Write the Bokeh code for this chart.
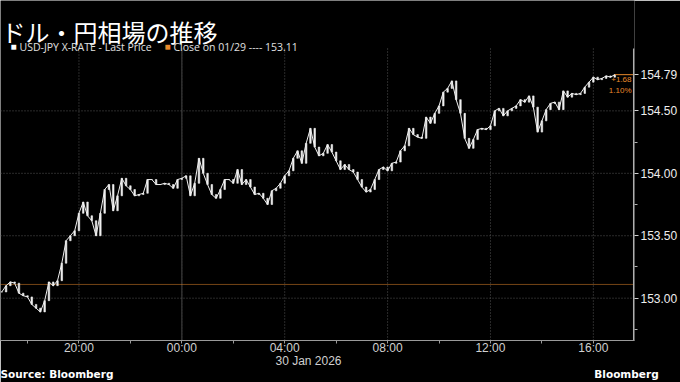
import pandas as pd
from bokeh.plotting import figure
from bokeh.models import (Range1d, LinearAxis, FixedTicker, Label, ColumnDataSource)
from bokeh.embed import file_html
from bokeh.resources import INLINE

# ---- data (USD/JPY, 10-minute closes) ----
start_time = "2026-01-29 17:00"
prices = [
    153.05, 153.10, 153.13, 153.12, 153.04, 153.02, 153.01, 152.95, 152.92, 152.89,
    152.98, 153.13, 153.10, 153.14, 153.28, 153.46, 153.50, 153.54, 153.68, 153.77,
    153.66, 153.62, 153.50, 153.68, 153.87, 153.91, 153.70, 153.82, 153.96, 153.90,
    153.87, 153.82, 153.83, 153.84, 153.95, 153.95, 153.91, 153.91, 153.92, 153.91,
    153.88, 153.95, 153.96, 153.98, 153.82, 153.92, 154.12, 154.00, 153.91, 153.83,
    153.80, 153.87, 153.95, 153.95, 153.92, 154.03, 153.91, 153.95, 153.89, 153.83,
    153.84, 153.80, 153.75, 153.86, 153.88, 153.92, 153.98, 154.02, 154.12, 154.18,
    154.08, 154.24, 154.36, 154.21, 154.14, 154.16, 154.23, 154.17, 154.10, 154.03,
    154.07, 154.03, 154.01, 153.95, 153.89, 153.85, 153.87, 153.95, 154.03, 154.05,
    154.02, 154.08, 154.09, 154.18, 154.22, 154.36, 154.31, 154.29, 154.28, 154.45,
    154.40, 154.48, 154.54, 154.65, 154.68, 154.74, 154.59, 154.48, 154.28, 154.20,
    154.27, 154.35, 154.36, 154.35, 154.38, 154.50, 154.52, 154.46, 154.50, 154.52,
    154.54, 154.59, 154.57, 154.62, 154.53, 154.33, 154.42, 154.51, 154.56, 154.57,
    154.51, 154.66, 154.61, 154.64, 154.63, 154.64, 154.69, 154.73, 154.77, 154.75,
    154.76, 154.78, 154.77, 154.79,
]
prev_close = 153.11
last_price_label = "154.79"
change = "+1.68"
change_pct = "1.10%"
x_tick_hours = [-4, 0, 4, 8, 12, 16]
x_tick_labels = ["20:00", "00:00", "04:00", "08:00", "12:00", "16:00"]
date_label = "30 Jan 2026"
y_ticks = [153.0, 153.5, 154.0, 154.5]
y_tick_labels = ["153.00", "153.50", "154.00", "154.50"]

times = pd.date_range(start_time, periods=len(prices), freq="10min")
midnight = pd.Timestamp("2026-01-30 00:00")
hours = [(t - midnight) / pd.Timedelta(hours=1) for t in times]
opens = [prices[0]] + prices[:-1]
src = ColumnDataSource(dict(
    x=hours, close=prices,
    top=[max(o, c) for o, c in zip(opens, prices)],
    bottom=[min(o, c) for o, c in zip(opens, prices)],
))

BG = "#000000"
ORANGE = "#e8892b"
FONT = "Liberation Sans"
X0, X1 = -7.05, 17.6
FB = 339                   # expected canvas y of the frame bottom
Y1 = 154.0 + 172.3 / 124.5  # frame reaches the top of the canvas
Y0 = 154.0 - (FB - 172.3) / 124.5
PLOT_TOP = 155.0           # visible chart area top
PXH = 634 / (X1 - X0)      # pixels per hour


def hx(px):
    return X0 + px / PXH


p = figure(width=680, height=382, output_backend="svg", toolbar_location=None,
           x_range=Range1d(X0, X1), y_range=Range1d(Y0, Y1),
           min_border_left=0, min_border_right=46, min_border_top=0, min_border_bottom=40,
           background_fill_color=BG, border_fill_color=BG, outline_line_color=None,
           y_axis_location=None)
p.xgrid.visible = False
p.ygrid.visible = False

# grid lines limited to the chart area
p.segment(x0=x_tick_hours, y0=[Y0] * 6, x1=x_tick_hours, y1=[PLOT_TOP] * 6,
          line_color="#555555", line_dash="1 2", line_width=1)
p.segment(x0=[0], y0=[Y0], x1=[0], y1=[PLOT_TOP], line_color="#303030", line_width=1.5)
p.segment(x0=[X0] * 4, y0=y_ticks, x1=[X1] * 4, y1=y_ticks,
          line_color="#555555", line_dash="1 2", line_width=1)

# previous close line
p.segment(x0=[X0], y0=[prev_close], x1=[X1], y1=[prev_close],
          line_color=ORANGE, line_dash="1 1", line_width=1)

# price series
p.line("x", "close", source=src, line_color="#f0f0f0", line_width=1.0)
p.vbar(x="x", top="top", bottom="bottom", width=0.06, source=src,
       fill_color="#f0f0f0", line_color="#f0f0f0", line_width=0.6)

# change bracket
p.segment(x0=[hours[-1]], y0=[prices[-1]], x1=[X1], y1=[prices[-1]],
          line_color=ORANGE, line_width=1)

# right axis line (only over the chart area)
p.segment(x0=[X1 - 0.03], y0=[Y0], x1=[X1 - 0.03], y1=[PLOT_TOP],
          line_color="#b0b0b0", line_width=1.5)

# bottom axis: times
xa = p.xaxis[0]
xa.ticker = FixedTicker(ticks=x_tick_hours, minor_ticks=[-6, -2, 2, 6, 10, 14])
xa.major_label_overrides = dict(zip(x_tick_hours, x_tick_labels))
xa.axis_line_color = "#9a9a9a"
xa.major_tick_line_color = "#9a9a9a"
xa.minor_tick_line_color = "#9a9a9a"
xa.major_tick_out = 3
xa.major_tick_in = 0
xa.minor_tick_out = 3
xa.minor_tick_in = 0
xa.major_label_text_color = "#d0d0d0"
xa.major_label_text_font = FONT
xa.major_label_text_font_size = "12px"
xa.major_label_standoff = -3


def text_axis(ticks, labels, size, color, standoff, style="normal", font=FONT):
    ax = LinearAxis(ticker=FixedTicker(ticks=ticks, minor_ticks=[]))
    ax.major_label_overrides = dict(zip(ticks, labels))
    ax.axis_line_color = None
    ax.major_tick_line_color = None
    ax.minor_tick_line_color = None
    ax.major_tick_out = 0
    ax.major_tick_in = 0
    ax.major_label_standoff = standoff
    ax.major_label_text_color = color
    ax.major_label_text_font = font
    ax.major_label_text_font_size = size
    ax.major_label_text_font_style = style
    p.add_layout(ax, "below")


# second row: date, third row: footer
text_axis([hx(308)], [date_label], "12px", "#d0d0d0", -4)
text_axis([hx(56), hx(626)], ["Source: Bloomberg", "Bloomberg"], "10.5px", "#ffffff", -3,
          style="bold", font="DejaVu Sans")

# right axis
ya = LinearAxis(ticker=FixedTicker(ticks=y_ticks + [prices[-1]],
                                   minor_ticks=[152.75, 153.25, 153.75, 154.25]))
ya.major_label_overrides = dict(zip(y_ticks + [prices[-1]], y_tick_labels + [last_price_label]))
ya.axis_line_color = None
ya.major_tick_line_color = "#d0d0d0"
ya.minor_tick_line_color = "#b0b0b0"
ya.major_tick_out = 4
ya.major_tick_in = 0
ya.minor_tick_out = 3
ya.minor_tick_in = 0
ya.major_label_text_color = "#eeeeee"
ya.major_label_text_font = FONT
ya.major_label_text_font_size = "12px"
ya.major_label_standoff = 2
p.add_layout(ya, "right")


def lab(x, cy, text, size, color="#ffffff", font=FONT, style="normal", align="left",
        baseline="alphabetic"):
    p.add_layout(Label(x=x, y=FB - cy, x_units="screen", y_units="screen", text=text,
                       text_font=font, text_font_size=size, text_color=color,
                       text_font_style=style, text_align=align, text_baseline=baseline))


lab(1, 30, "ドル・円相場の推移", "24px", font="Noto Sans CJK JP")
lab(10, 45, "■", "10px", color="#ffffff")
lab(19, 45, "USD-JPY X-RATE - Last Price", "10.5px", color="#e0e0e0", font="Open Sans")
lab(164, 45, "■", "10px", color=ORANGE)
lab(173, 45, "Close on 01/29 ---- 153.11", "10.5px", color="#e0e0e0", font="Open Sans")
lab(631, 78, change, "8px", color=ORANGE, align="right", baseline="middle")
lab(631, 89, change_pct, "8px", color=ORANGE, align="right", baseline="middle")

open("out.html", "w").write(file_html(p, INLINE))
